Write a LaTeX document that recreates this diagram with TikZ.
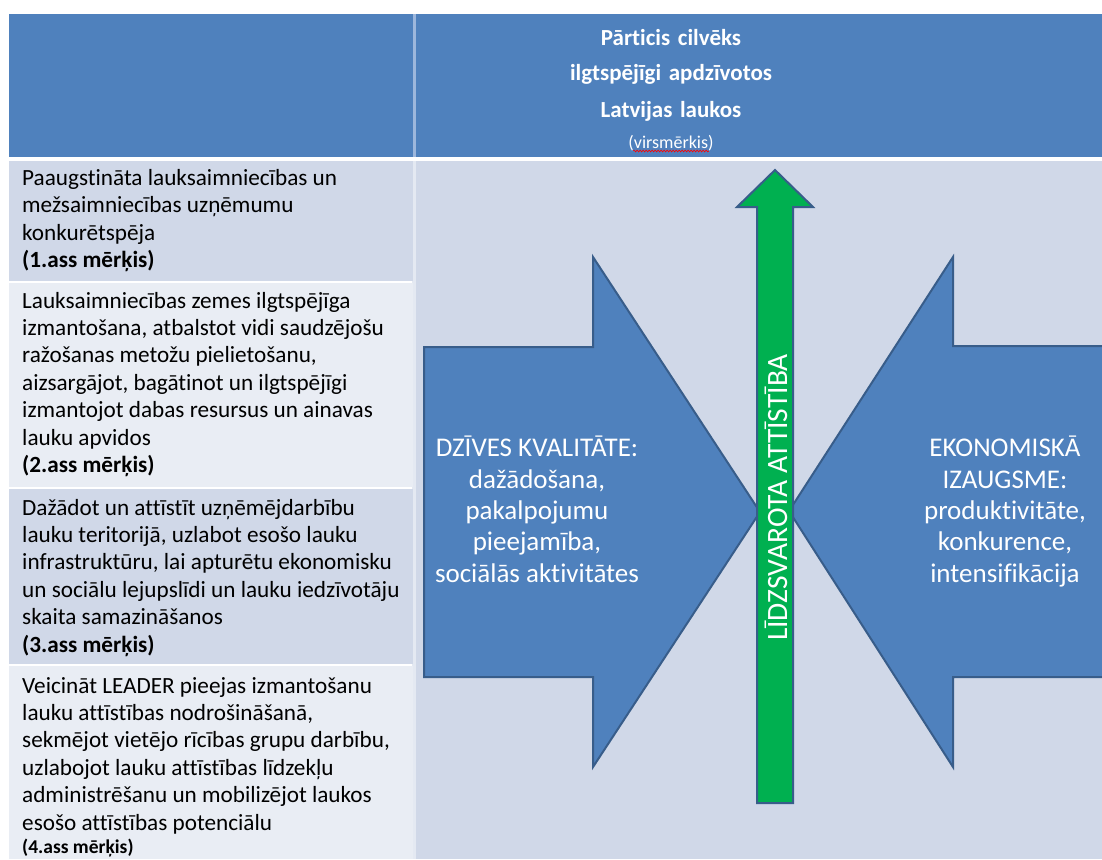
\documentclass[tikz,border=0pt]{standalone}
\usepackage{fontspec}
\setmainfont{Carlito}[Ligatures=CommonOff]
\usetikzlibrary{decorations.pathmorphing}
\definecolor{hdrblue}{HTML}{4F81BD}
\definecolor{hdrsep}{HTML}{9DB7DC}
\definecolor{rowdark}{HTML}{D0D8E8}
\definecolor{rowlight}{HTML}{E9EDF4}
\definecolor{bodysep}{HTML}{E4E9F2}
\definecolor{arrowedge}{HTML}{385D8A}
\definecolor{arrowgreen}{HTML}{00B050}
\newcommand{\hdrfont}{\fontsize{23}{36}\selectfont\bfseries\spaceskip=0.33em\relax}
\tikzset{
  celltext/.style={anchor=base west, inner sep=0pt, align=left, text=black,
    font=\fontsize{23.2}{27.4}\selectfont},
  arrowtext/.style={anchor=base, inner sep=0pt, align=center, text=white,
    font=\fontsize{27}{31.3}\selectfont},
  bluearrow/.style={fill=hdrblue, draw=arrowedge, line width=2pt, line join=miter},
  greenarrow/.style={fill=arrowgreen, draw=arrowedge, line width=2pt, line join=miter},
}
\begin{document}
\begin{tikzpicture}[x=1pt,y=-1pt]
\useasboundingbox[fill=white] (0,0) rectangle (1102,859);
% table background
\fill[hdrsep] (412,14) rectangle (417,157);
\fill[bodysep] (412,161) rectangle (417,859);
\fill[hdrblue] (9,14) rectangle (413,157);
\fill[hdrblue] (416,14) rectangle (1102,157);
\fill[rowdark] (9,161) rectangle (413,281);
\fill[rowlight] (9,282.5) rectangle (413,487);
\fill[rowdark] (9,488.5) rectangle (413,664);
\fill[rowlight] (9,665.5) rectangle (413,859);
\fill[rowdark] (416,161) rectangle (1102,859);
% header text (base anchor = last line)
\node[anchor=base, inner sep=0pt, align=center, text=white, font=\hdrfont] (goal) at (671,117)
  {Pārticis cilvēks\\ ilgtspējīgi apdzīvotos\\ Latvijas laukos};
\node[anchor=base, inner sep=0pt, text=white, font=\fontsize{18}{20}\selectfont]
  (virs) at (671,148) {(virsmērkis)};
\draw[red, line width=0.6pt, decorate, decoration={snake, amplitude=0.9pt, segment length=3pt}]
  ([xshift=5pt,yshift=-3pt]virs.base west) -- ([xshift=-5pt,yshift=-3pt]virs.base east);
% left column text (base anchor = last line)
\node[celltext] (g1) at (22,267.5) {Paaugstināta lauksaimniecības un\\ mežsaimniecības uzņēmumu\\ konkurētspēja\\ \textbf{(1.ass mērķis)}};
\node[celltext] (g2) at (22,472.5) {Lauksaimniecības zemes ilgtspējīga\\ izmantošana, atbalstot vidi saudzējošu\\ ražošanas metožu pielietošanu,\\ aizsargājot, bagātinot un ilgtspējīgi\\ izmantojot dabas resursus un ainavas\\ lauku apvidos\\ \textbf{(2.ass mērķis)}};
\node[celltext] (g3) at (22,652) {Dažādot un attīstīt uzņēmējdarbību\\ lauku teritorijā, uzlabot esošo lauku\\ infrastruktūru, lai apturētu ekonomisku\\ un sociālu lejupslīdi un lauku iedzīvotāju\\ skaita samazināšanos\\ \textbf{(3.ass mērķis)}};
\node[celltext] (g4) at (22,853) {Veicināt LEADER pieejas izmantošanu\\ lauku attīstības nodrošināšanā,\\ sekmējot vietējo rīcības grupu darbību,\\ uzlabojot lauku attīstības līdzekļu\\ administrēšanu un mobilizējot laukos\\ esošo attīstības potenciālu\\[-4.4pt] {\fontsize{19.5}{22}\selectfont\bfseries (4.ass mērķis)}};
% blue arrows
\draw[bluearrow] (424,347) -- (593,347) -- (593,257) -- (760,512) -- (593,767) -- (593,677) -- (424,677) -- cycle;
\draw[bluearrow] (1115,346) -- (953,346) -- (953,257) -- (789,511) -- (953,767) -- (953,677) -- (1115,677) -- cycle;
% green arrow
\draw[greenarrow] (757,803) -- (757,207) -- (737,207) -- (775,170) -- (813,207) -- (793,207) -- (793,803) -- cycle;
\node[anchor=center, inner sep=0pt, text=white, rotate=90,
  font=\fontsize{29.5}{32}\selectfont] (bal) at (776,497.5) {LĪDZSVAROTA ATTĪSTĪBA};
% arrow texts (base anchor = last line)
\node[arrowtext] (life) at (537,582) {DZĪVES KVALITĀTE:\\ dažādošana,\\ pakalpojumu\\ pieejamība,\\ sociālās aktivitātes};
\node[arrowtext] (econ) at (1005,582) {EKONOMISKĀ\\ IZAUGSME:\\ produktivitāte,\\ konkurence,\\ intensifikācija};
\end{tikzpicture}
\end{document}
